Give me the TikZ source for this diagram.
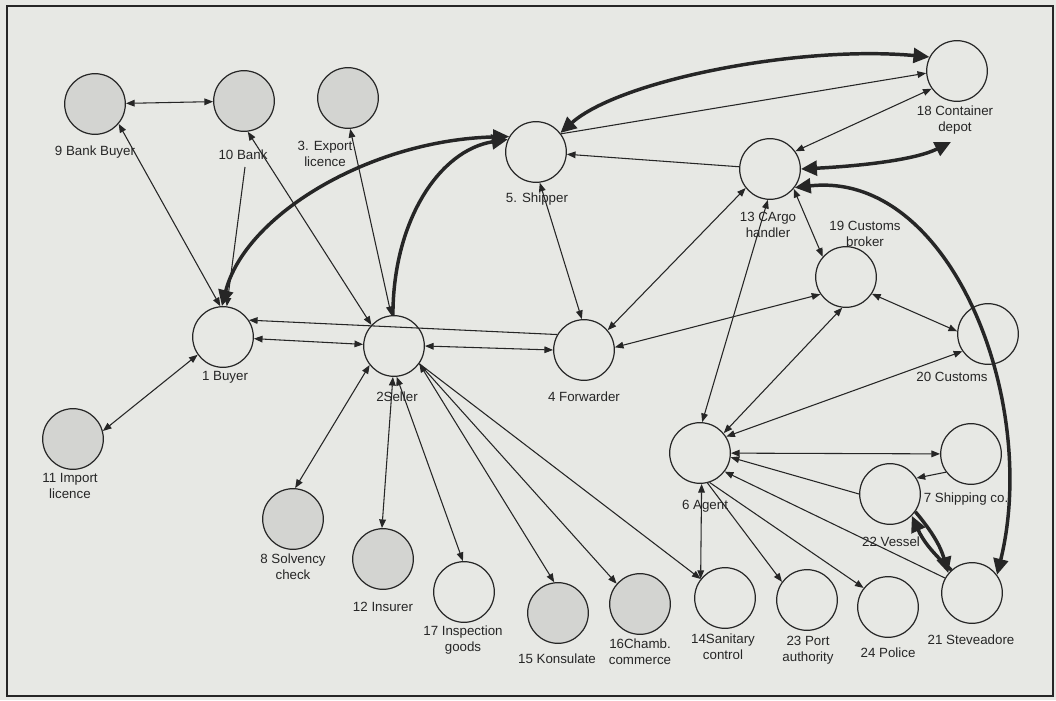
\documentclass[tikz,border=0pt]{standalone}
\usepackage{fontspec}
\setmainfont{Liberation Sans}
\usetikzlibrary{arrows.meta}
\definecolor{bgc}{RGB}{231,232,228}
\definecolor{gfill}{RGB}{211,212,209}
\definecolor{ink}{RGB}{38,38,38}
\begin{document}
\begin{tikzpicture}[x=0.75pt,y=-0.75pt,
  circ/.style={circle,draw=ink,line width=0.9pt,minimum size=45.5pt,inner sep=0pt,fill=bgc},
  gcirc/.style={circ,fill=gfill},
  lbl/.style={font=\fontsize{10}{12}\selectfont,align=center,inner sep=0pt,text=ink},
  edge/.style={draw=ink,line width=0.8pt},
  thk/.style={draw=ink,line width=2.6pt},
  one/.style={edge,arrows={-Triangle[length=6.5pt,width=5pt]}},
  two/.style={edge,arrows={Triangle[length=6.5pt,width=5pt]-Triangle[length=6.5pt,width=5pt]}},
  tone/.style={thk,arrows={-Triangle[length=12pt,width=11pt]}},
  ttwo/.style={thk,arrows={Triangle[length=12pt,width=11pt]-Triangle[length=12pt,width=11pt]}},
]
\useasboundingbox (0,0) rectangle (1056,700);
\fill[bgc] (0,0) rectangle (1056,700);
\draw[ink,line width=1.5pt] (7,6) rectangle (1053,696);

% nodes
\node[circ]  (n1)  at (223,337) {};
\node[circ]  (n2)  at (394,346) {};
\node[gcirc] (n3)  at (348,98)  {};
\node[circ]  (n4)  at (584,350) {};
\node[circ]  (n5)  at (536,152) {};
\node[circ]  (n6)  at (700,453) {};
\node[circ]  (n7)  at (971,454) {};
\node[gcirc] (n8)  at (293,519) {};
\node[gcirc] (n9)  at (95,104)  {};
\node[gcirc] (n10) at (244,101) {};
\node[gcirc] (n11) at (73,439)  {};
\node[gcirc] (n12) at (383,559) {};
\node[circ]  (n13) at (770,169) {};
\node[circ]  (n14) at (725,598) {};
\node[gcirc] (n15) at (558,613) {};
\node[gcirc] (n16) at (640,604) {};
\node[circ]  (n17) at (464,592) {};
\node[circ]  (n18) at (957,71)  {};
\node[circ]  (n19) at (846,277) {};
\node[circ]  (n20) at (988,334) {};
\node[circ]  (n21) at (972,593) {};
\node[circ]  (n22) at (890,494) {};
\node[circ]  (n23) at (807,600) {};
\node[circ]  (n24) at (888,607) {};

% labels
\node[lbl] (l9)  at (95,152)  {9 Bank Buyer};
\node[lbl] (l10) at (243,155) {10 Bank};
\node[lbl] (l3)  at (325,154) {3. Export\\licence};
\node[lbl] (l5)  at (537,199) {5. Shipper};
\node[lbl] (l18) at (955,120) {18 Container\\depot};
\node[lbl] (l13) at (768,225) {13 CArgo\\handler};
\node[lbl] (l19) at (865,234) {19 Customs\\broker};
\node[lbl] (l20) at (952,377) {20 Customs};
\node[lbl] (l1)  at (225,377) {1 Buyer};
\node[lbl] (l2)  at (397,397) {2Seller};
\node[lbl] (l4)  at (584,397) {4 Forwarder};
\node[lbl] (l11) at (70,486)  {11 Import\\licence};
\node[lbl] (l6)  at (705,506) {6 Agent};
\node[lbl] (l7)  at (966,499) {7 Shipping co.};
\node[lbl] (l22) at (891,542) {22 Vessel};
\node[lbl] (l21) at (971,640) {21 Steveadore};
\node[lbl] (l8)  at (293,567) {8 Solvency\\check};
\node[lbl] (l12) at (383,607) {12 Insurer};
\node[lbl] (l17) at (463,640) {17 Inspection\\goods};
\node[lbl] (l15) at (557,659) {15 Konsulate};
\node[lbl] (l16) at (640,652) {16Chamb.\\commerce};
\node[lbl] (l14) at (723,647) {14Sanitary\\control};
\node[lbl] (l23) at (808,650) {23 Port\\authority};
\node[lbl] (l24) at (888,653) {24 Police};

\coordinate (c10) at (245,167);
\coordinate (c18) at (951,142);

% thin connectors
\draw[two] (n9) -- (n10);
\draw[two] (n1.95) -- (n9.-40);
\draw[one] (c10) -- (n1.83);
\draw[two] (n2.137) -- (n10.-83);
\draw[two] (n2.95) -- (n3.-86);
\draw[one] (n5.36) -- (n18.184);
\draw[one] (n13) -- (n5);
\draw[two] (n13.35) -- (n18.215);
\draw[two] (n13.-40) -- (n19.139);
\draw[two] (n4.5) -- (n19.214);
\draw[two] (n6.40) -- (n19.-97);
\draw[two] (n19.-33) -- (n20.175);
\draw[two] (n20.214) -- (n6.32);
\draw[two] (n13.-94) -- (n6.86);
\draw[two] (n13.218) -- (n4.40);
\draw[two] (n5.-83) -- (n4.94);
\draw[two] (n2.0) -- (n4.180);
\draw[one] (n4.150) -- (n1.33);
\draw[two] (n1) -- (n2);
\draw[two] (n1.215) -- (n11.15);
\draw[two] (n2.218) -- (n8.86);
\draw[two] (n2.-92) -- (n12.92);
\draw[two] (n2.-85) -- (n17.92);
\draw[two] (n2.-35) -- (n15.97);
\draw[one] (n2.-35) -- (n16.139);
\draw[one] (n2.-35) -- (n14.142);
\draw[two] (n6.-87) -- (n14.142);
\draw[one] (n6.-76) -- (n23.144);
\draw[one] (n6.-72) -- (n24.142);
\draw[one] (n21.151) -- (n6.-37);
\draw[one] (n22.180) -- (n6.-8);
\draw[two] (n6) -- (n7);
\draw[one] (n7.216) -- (n22.31);

% thick connectors
\draw[ttwo] (n1.92) .. controls (245,215) and (370,140) .. (n5.150);
\draw[tone] (n2.92) .. controls (393,220) and (440,150) .. (n5.156);
\draw[ttwo] (n5.38) .. controls (620,80) and (800,45) .. (n18.153);
\draw[ttwo] (n13.0) .. controls (860,166) and (915,160) .. (c18);
\draw[ttwo] (n13.-37) .. controls (950,170) and (1040,400) .. (n21.36);
\draw[tone] (n22.-35) to[bend left=12] (n21.140);
\draw[tone] (n21.132) to[bend left=12] (n22.-45);
\end{tikzpicture}
\end{document}
